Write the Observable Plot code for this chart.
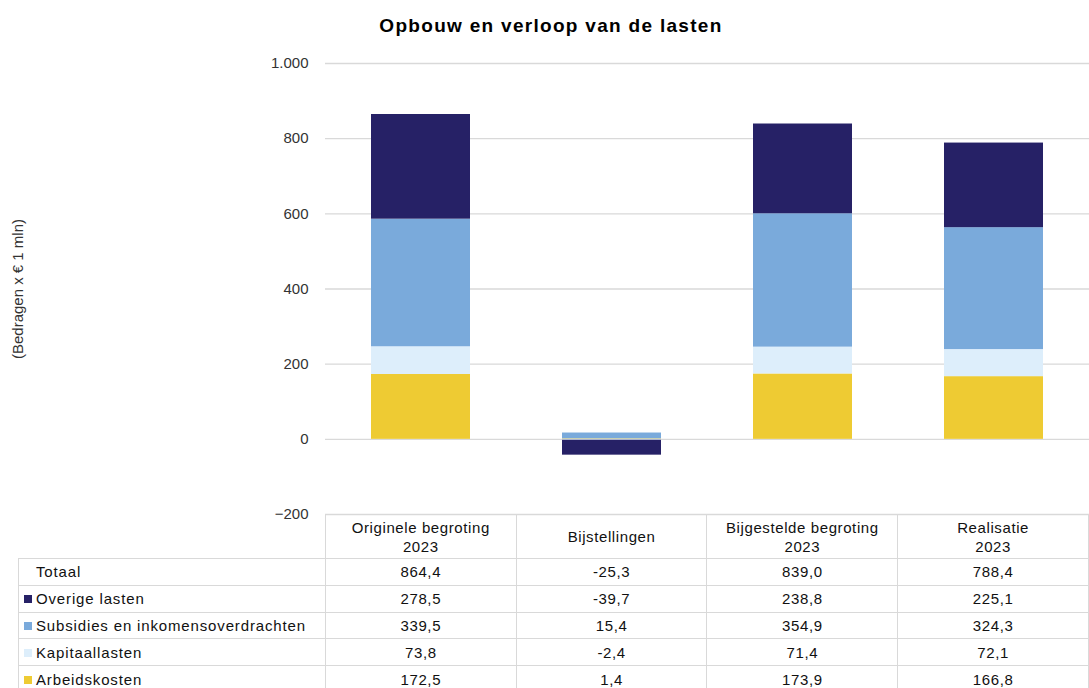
<!DOCTYPE html>
<html>
<head>
<meta charset="utf-8">
<script src="https://cdn.jsdelivr.net/npm/d3@7"></script>
<script src="https://cdn.jsdelivr.net/npm/@observablehq/plot@0.6"></script>
<style>
  body { margin: 0; background: #fff; font-family: "Liberation Sans", Arial, sans-serif; }
  #wrap { position: relative; width: 1089px; height: 688px; overflow: hidden; }
  #title { position: absolute; left: 0; top: 15px; width: 1102px; text-align: center; font-weight: bold; font-size: 19px; letter-spacing: 1.3px; color: #000; }
  #chart { position: absolute; left: 0; top: 50px; }
  #chart svg { overflow: visible; }
  table { position: absolute; left: 18px; top: 514px; border-collapse: collapse; font-size: 15px; letter-spacing: 0.6px; color: #111; table-layout: fixed; }
  td { border: 1px solid #d9d9d9; text-align: center; padding: 0; height: 25.8px; line-height: 19px; }
  td.lab { text-align: left; padding-left: 5px; white-space: nowrap; letter-spacing: 0.85px; }
  td.blank { border: none; border-right: 1px solid #d9d9d9; }
  tr.head td { height: 43px; vertical-align: middle; }
  .sw { display: inline-block; width: 8px; height: 8px; margin-right: 4px; vertical-align: 1px; }
</style>
</head>
<body>
<div id="wrap">
  <div id="title">Opbouw en verloop van de lasten</div>
  <div id="chart"></div>
  <table id="tbl"></table>
</div>
<script>
// categories (x), header labels for the table
const categories = ["Originele begroting 2023", "Bijstellingen", "Bijgestelde begroting 2023", "Realisatie 2023"];
const headerLines = [["Originele begroting", "2023"], ["Bijstellingen"], ["Bijgestelde begroting", "2023"], ["Realisatie", "2023"]];
// series (stack order bottom to top)
const seriesNames = ["Arbeidskosten", "Kapitaallasten", "Subsidies en inkomensoverdrachten", "Overige lasten"];
const seriesColors = ["#eecb33", "#ddeefb", "#7aaadb", "#262166"];
// values per series, one per category
const arbeidskosten = [172.5, 1.4, 173.9, 166.8];
const kapitaallasten = [73.8, -2.4, 71.4, 72.1];
const subsidies = [339.5, 15.4, 354.9, 324.3];
const overigeLasten = [278.5, -39.7, 238.8, 225.1];
const totaal = [864.4, -25.3, 839.0, 788.4];
const yTicks = [-200, 0, 200, 400, 600, 800, 1000];

const seriesValues = [arbeidskosten, kapitaallasten, subsidies, overigeLasten];
const data = [];
seriesNames.forEach((s, i) => categories.forEach((c, j) => data.push({cat: c, series: s, value: seriesValues[i][j]})));

const nl = v => d3.format(",")(v).replace(/,/g, ".");

const W = 1089, H = 474;
const plot = Plot.plot({
  width: W, height: H,
  marginLeft: 325, marginRight: 0, marginTop: 13, marginBottom: 10,
  style: {fontFamily: "'Liberation Sans', Arial, sans-serif", fontSize: "15px", color: "#333", background: "transparent"},
  x: {domain: categories, paddingInner: 0.48, paddingOuter: 0.24, axis: null},
  y: {domain: [-200, 1000], ticks: yTicks, tickFormat: nl, label: null, tickSize: 0, tickPadding: 17},
  color: {domain: seriesNames, range: seriesColors},
  marks: [
    Plot.gridY(yTicks, {stroke: "#d9d9d9", strokeOpacity: 1, strokeWidth: 1.3}),
    Plot.barY(data, Plot.stackY({x: "cat", y: "value", fill: "series", order: seriesNames})),
    Plot.axisY({ticks: yTicks, tickFormat: nl, tickSize: 0, tickPadding: 17, fontSize: 15, fill: "#333", label: null, style: {letterSpacing: "0.4px"}}),
    Plot.text(["(Bedragen x € 1 mln)"], {frameAnchor: "left", dx: -307, rotate: -90, textAnchor: "middle", fontSize: 15, fill: "#333", style: {letterSpacing: "1.9px"}})
  ]
});
document.getElementById("chart").appendChild(plot);

// table
const tbl = document.getElementById("tbl");
const colW = [307, 191, 191, 191, 191];
const cg = document.createElement("colgroup");
colW.forEach(w => { const c = document.createElement("col"); c.style.width = w + "px"; cg.appendChild(c); });
tbl.appendChild(cg);
let tr = document.createElement("tr"); tr.className = "head";
let td = document.createElement("td"); td.className = "blank"; tr.appendChild(td);
headerLines.forEach(lines => { const t = document.createElement("td"); t.innerHTML = lines.join("<br>"); tr.appendChild(t); });
tbl.appendChild(tr);
const fmt = v => v.toFixed(1).replace(".", ",");
const rows = [{name: "Totaal", color: null, vals: totaal}];
for (let i = seriesNames.length - 1; i >= 0; i--) rows.push({name: seriesNames[i], color: seriesColors[i], vals: seriesValues[i]});
rows.forEach(r => {
  const tr = document.createElement("tr");
  const l = document.createElement("td"); l.className = "lab";
  l.innerHTML = (r.color ? `<span class="sw" style="background:${r.color}"></span>` : `<span class="sw"></span>`) + r.name;
  tr.appendChild(l);
  r.vals.forEach(v => { const t = document.createElement("td"); t.textContent = fmt(v); tr.appendChild(t); });
  tbl.appendChild(tr);
});
</script>
</body>
</html>
